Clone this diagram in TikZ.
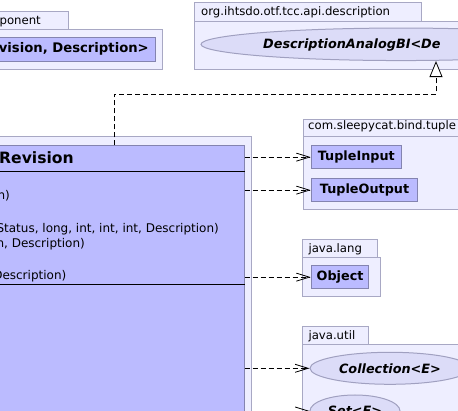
\documentclass[tikz,border=0pt]{standalone}
\usepackage{fontspec}
\setmainfont{DejaVu Sans}
\usetikzlibrary{arrows.meta,shapes.geometric}

\definecolor{pkgfill}{HTML}{EEEEFF}
\definecolor{pkgline}{HTML}{A8A8C4}
\definecolor{clsfill}{HTML}{BBBBFF}
\definecolor{clsline}{HTML}{8484B0}
\definecolor{ifcfill}{HTML}{DCDCF8}
\definecolor{ifcline}{HTML}{A0A0C0}

\tikzset{
  x=1pt, y=-1pt,
  pkg/.style={draw=pkgline, fill=pkgfill, line width=1pt, rectangle, inner sep=0pt},
  cls/.style={draw=clsline, fill=clsfill, line width=1pt, rectangle, inner sep=0pt,
              font=\fontsize{12.8}{15}\bfseries\selectfont},
  ifc/.style={draw=ifcline, fill=ifcfill, line width=1pt, ellipse, inner sep=0pt,
              font=\fontsize{12.8}{15}\bfseries\itshape\selectfont},
  lbl/.style={inner sep=0pt, font=\fontsize{11.7}{14}\selectfont},
  oplbl/.style={inner sep=0pt, font=\fontsize{12}{14}\selectfont},
  boldlbl/.style={inner sep=0pt, font=\fontsize{13.2}{15}\bfseries\selectfont},
  italbl/.style={inner sep=0pt, font=\fontsize{12.8}{15}\bfseries\itshape\selectfont},
  titlelbl/.style={inner sep=0pt, font=\fontsize{15.6}{18}\bfseries\selectfont},
  sep/.style={draw=black, line width=1pt},
  dep/.style={draw=black, line width=0.8pt, dash pattern=on 5pt off 3pt,
              -{Straight Barb[length=13pt,width=8pt,line width=0.8pt]}},
  real/.style={draw=black, line width=0.8pt, dash pattern=on 5pt off 3pt,
               -{Triangle[open,length=16pt,width=13pt,line width=0.8pt,fill=white]}},
}

\begin{document}
\begin{tikzpicture}
\useasboundingbox (0,0) rectangle (458,411);
\clip (0,0) rectangle (458,411);
\fill[white] (0,0) rectangle (458,411);

% component package (top left)
\node[pkg, anchor=north east, minimum width=100pt, minimum height=18pt] (comptab) at (69.3,11) {};
\node[pkg, anchor=north east, minimum width=200pt, minimum height=40pt] (comppkg) at (163.3,29) {};
\node[cls, anchor=north east, minimum width=200pt, minimum height=23.7pt] (compcls) at (156,37.3) {};
\node[lbl, anchor=base east] (comptabtxt) at (41,25) {ponent};
\node[boldlbl, anchor=base east] (compclstxt) at (149,52.3) {vision, Description>};

% description package (top right)
\node[pkg, anchor=north west, minimum width=226.7pt, minimum height=18.4pt] (desctab) at (194,2.3) {};
\node[pkg, anchor=north west, minimum width=300pt, minimum height=48.3pt] (descpkg) at (194,20.7) {};
\node[ifc, minimum width=400pt, minimum height=32.5pt] (desc) at (401,44.3) {};
\node[lbl, anchor=base west] (desctabtxt) at (201,15.5) {org.ihtsdo.otf.tcc.api.description};
\node[italbl, anchor=base west] (desctxt) at (263,48.5) {DescriptionAnalogBI<De};

% main package and class
\node[pkg, anchor=north east, minimum width=300pt, minimum height=330pt] (mainpkg) at (252.3,136.2) {};
\node[cls, anchor=north east, minimum width=300pt, minimum height=330pt] (main) at (244.7,145.3) {};
\draw[sep] (main.west |- 0,171.7) -- (main.east |- 0,171.7);
\draw[sep] (main.west |- 0,284.3) -- (main.east |- 0,284.3);
\node[titlelbl, anchor=base east] (maintitle) at (74,164) {Revision};
\node[oplbl, anchor=base east] (op1) at (10,200) {n)};
\node[oplbl, anchor=base east] (op2) at (219,232.5) {Status, long, int, int, int, Description)};
\node[oplbl, anchor=base east] (op3) at (85,248) {n, Description)};
\node[oplbl, anchor=base east] (op4) at (66.5,280) {Description)};

% com.sleepycat.bind.tuple
\node[pkg, anchor=north west, minimum width=200pt, minimum height=16.7pt] (tupletab) at (302.7,119.3) {};
\node[pkg, anchor=north west, minimum width=200pt, minimum height=73pt] (tuplepkg) at (302.7,136) {};
\node[lbl, anchor=base west] (tupletabtxt) at (308,130) {com.sleepycat.bind.tuple};
\node[cls, anchor=north west, minimum width=90.3pt, minimum height=23.3pt] (tin) at (310.7,145) {TupleInput};
\node[cls, anchor=north west, minimum width=106.7pt, minimum height=22.7pt] (tout) at (310.7,178.3) {TupleOutput};

% java.lang
\node[pkg, anchor=north west, minimum width=75pt, minimum height=18pt] (langtab) at (302.3,239.3) {};
\node[pkg, anchor=north west, minimum width=78pt, minimum height=38.7pt] (langpkg) at (302.3,257.3) {};
\node[lbl, anchor=base west] (langtabtxt) at (308.3,252.7) {java.lang};
\node[cls, anchor=north west, minimum width=57.7pt, minimum height=23.3pt] (obj) at (310.7,265) {Object};

% java.util
\node[pkg, anchor=north west, minimum width=66pt, minimum height=18pt] (utiltab) at (302.3,326) {};
\node[pkg, anchor=north west, minimum width=200pt, minimum height=100pt] (utilpkg) at (302.3,344) {};
\node[lbl, anchor=base west] (utiltabtxt) at (308.3,340) {java.util};
\node[ifc, minimum width=160pt, minimum height=32pt] (coll) at (390,368.3) {Collection<E>};
\node[ifc, minimum width=90pt, minimum height=32pt] (set) at (355,411) {Set<E>};

% realization of the description interface
\coordinate (bendA) at (114,94.3);
\coordinate (bendB) at (436,94.3);
\draw[real] (main.north -| bendA) -- (bendA) -- (bendB) -- (desc.south -| bendB);

% dependencies
\draw[dep] (main.east |- tin.west) -- (tin.west);
\draw[dep] (main.east |- tout.west) -- (tout.west);
\draw[dep] (main.east |- obj.west) -- (obj.west);
\draw[dep] (main.east |- coll.west) -- (coll.west);
\draw[dep] (main.east |- set.west) -- (set.west);
\end{tikzpicture}
\end{document}
